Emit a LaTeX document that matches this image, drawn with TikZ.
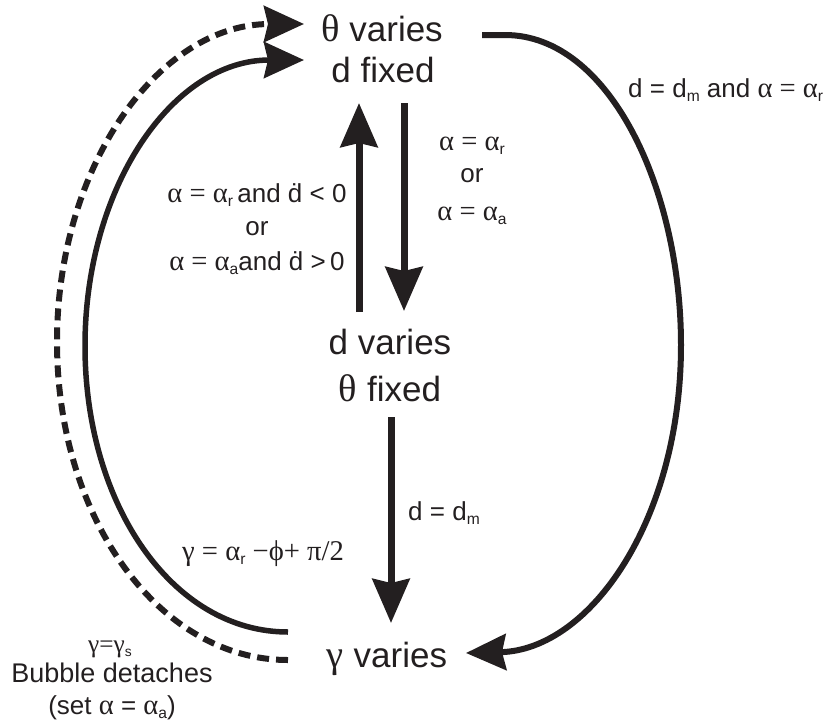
\documentclass[tikz,border=0pt]{standalone}
\usepackage{fontspec}
\usepackage{graphicx}
\setmainfont{Liberation Sans}
\newfontfamily\gr[Scale=1.1]{Liberation Serif}
\usetikzlibrary{arrows.meta}
\definecolor{ink}{RGB}{35,31,32}
\newcommand\sbs[1]{\raisebox{-0.35ex}{\scalebox{0.6}{#1}}}
\begin{document}
\begin{tikzpicture}[x=1pt,y=-1pt,
  big/.style={font=\fontsize{35}{40}\selectfont, inner sep=0pt, anchor=base, text=ink},
  lab/.style={font=\fontsize{26}{31}\selectfont, inner sep=0pt, anchor=base, text=ink},
  labl/.style={lab, anchor=base west},
  bighead/.style={-{Stealth[length=44pt,width=37pt,inset=4pt]}},
  curvehead/.style={-{Stealth[length=40pt,width=36pt,inset=4pt]}},
  thick line/.style={draw=ink, line width=7pt},
  curve line/.style={draw=ink, line width=5.5pt},
]
\useasboundingbox (0,0) rectangle (831,724);

% state nodes
\node[big] (tv) at (382,41) {{\gr θ} varies};
\node[big] (df) at (383,82) {d fixed};
\node[big] (dv) at (390,354) {d varies};
\node[big] (tf) at (390,401) {{\gr θ} fixed};
\node[big] (gv) at (387,667) {{\gr γ} varies};

% labels
\node[labl] (l1) at (628,97) {d = d\sbs{m} and {\gr α = α}\sbs{r}};
\node[lab] (l2a) at (472,150) {{\gr α = α}\sbs{r}};
\node[lab] (l2b) at (472,182) {or};
\node[lab] (l2c) at (472,220) {{\gr α = α}\sbs{a}};
\node[lab] (l3a) at (257,202) {{\gr α = α}\sbs{r}\,and \.{d} < 0};
\node[lab] (l3b) at (257,235) {or};
\node[lab] (l3c) at (257,270) {{\gr α = α}\sbs{a}and \.{d} {>}\,0};
\node[labl] (l4) at (408,520) {d = d\sbs{m}};
\node[labl] (l5) at (182,560) {{\gr γ = α}\sbs{r} {\gr −ϕ+ π/2}};
\node[lab, font=\fontsize{23}{27}\selectfont] (l6) at (110,652) {{\gr γ=γ}\sbs{s}};
\node[lab, font=\fontsize{27}{32}\selectfont] (l7) at (112,682) {Bubble detaches};
\node[lab, font=\fontsize{26}{31}\selectfont] (l8) at (112,714) {(set {\gr α} = {\gr α}\sbs{a})};

% connector end points
\coordinate (u1) at (359,312); \coordinate (u2) at (359,103);
\coordinate (w1) at (404,103); \coordinate (w2) at (404,311);
\coordinate (z1) at (391,417); \coordinate (z2) at (391,623);
\coordinate (dS) at (288,660); \coordinate (dE) at (304,24);
\coordinate (sS) at (288,632); \coordinate (sE) at (304,60);
\coordinate (rS) at (482,35); \coordinate (rE) at (466,653);

% straight arrows
\draw[thick line, bighead] (u1) -- (u2);
\draw[thick line, bighead] (w1) -- (w2);
\draw[thick line, bighead] (z1) -- (z2);

% left curves
\draw[draw=ink, line width=6pt, dash pattern=on 12pt off 7pt, curvehead]
  (dS) .. controls (159,660) and (57,518) .. (57,342)
       .. controls (57,166) and (159,24) .. (dE);
\draw[curve line, curvehead]
  (sS) .. controls (172,632) and (85,504) .. (85,346)
       .. controls (85,188) and (172,60) .. (sE);

% right curve
\draw[curve line, line width=6pt, curvehead]
  (rS) -- (505,35) .. controls (610,35) and (681,190) .. (681,345)
       .. controls (681,520) and (590,650) .. (rE);
\end{tikzpicture}
\end{document}
